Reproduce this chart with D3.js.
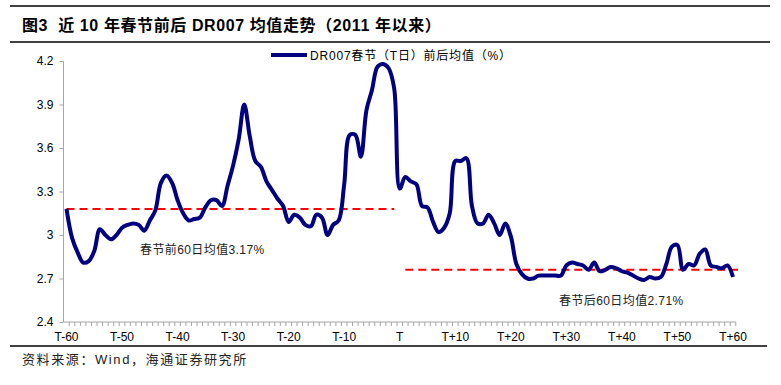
<!DOCTYPE html>
<html lang="zh">
<head>
  <meta charset="UTF-8" />
  <title>DR007 春节前后均值</title>
  <style>
    body { margin: 0; background: #fff; }
    svg { display: block; font-family: 'Liberation Sans', Arial, 'Noto Sans CJK SC', sans-serif; }
    .axis path, .axis line { stroke: #a6a6a6; }
    .axis text { fill: #000; font-size: 12px; }
  </style>
</head>
<body>
  <svg id="chart" width="781" height="385"></svg>

  <script src="https://d3js.org/d3.v7.min.js"></script>
  <script>
    // T-60 ... T ... T+60
    const days = d3.range(-60, 61).map(d => d === 0 ? "T" : d < 0 ? "T" + d : "T+" + d);

    const dr007 = [
      3.18, 2.98, 2.88, 2.81, 2.82, 2.89, 3.04, 3.00, 2.97, 3.00,
      3.05, 3.07, 3.08, 3.07, 3.03, 3.10, 3.17, 3.36, 3.41, 3.36,
      3.24, 3.15, 3.10, 3.11, 3.12, 3.19, 3.24, 3.24, 3.20, 3.34,
      3.48, 3.66, 3.90, 3.68, 3.51, 3.47, 3.37, 3.31, 3.25, 3.20,
      3.09, 3.14, 3.12, 3.07, 3.06, 3.14, 3.12, 3.00, 3.07, 3.10,
      3.35, 3.69, 3.69, 3.54, 3.86, 4.00, 4.16, 4.18, 4.15, 4.01,
      3.32, 3.40, 3.37, 3.35, 3.20, 3.19, 3.09, 3.02, 3.05, 3.15,
      3.51, 3.51, 3.53, 3.20, 3.08, 3.08, 3.14, 3.08, 3.00, 3.08,
      2.99, 2.80, 2.73, 2.70, 2.70, 2.72, 2.72, 2.72, 2.72, 2.72,
      2.79, 2.81, 2.80, 2.79, 2.76, 2.81, 2.75, 2.76, 2.78, 2.77,
      2.75, 2.74, 2.72, 2.70, 2.69, 2.71, 2.70, 2.71, 2.80, 2.92,
      2.93, 2.76, 2.80, 2.79, 2.87, 2.90, 2.79, 2.78, 2.77, 2.79,
      2.71
    ];

    const yTicks = [2.4, 2.7, 3, 3.3, 3.6, 3.9, 4.2];
    const xLabelDays = ["T-60", "T-50", "T-40", "T-30", "T-20", "T-10", "T",
                        "T+10", "T+20", "T+30", "T+40", "T+50", "T+60"];

    // 均值线：前60日 / 后60日
    const preAvgLabel = "春节前60日均值3.17%";
    const postAvgLabel = "春节后60日均值2.71%";
    const preLevel = 3.18;
    const postLevel = 2.76;

    const svg = d3.select("#chart");

    const x = d3.scalePoint().domain(days).range([66.5, 733]);
    const y = d3.scaleLinear().domain([2.4, 4.2]).range([322, 61]);

    // 标题与分隔线
    svg.append("line").attr("x1", 10).attr("x2", 770).attr("y1", 6).attr("y2", 6)
      .attr("stroke", "#000").attr("stroke-width", 1.5);
    svg.append("line").attr("x1", 10).attr("x2", 770).attr("y1", 42).attr("y2", 42)
      .attr("stroke", "#000").attr("stroke-width", 1.5);
    svg.append("line").attr("x1", 10).attr("x2", 767).attr("y1", 346).attr("y2", 346)
      .attr("stroke", "#000").attr("stroke-width", 1.5);

    svg.append("text")
      .attr("x", 22).attr("y", 31)
      .attr("font-size", 16).attr("font-weight", "bold")
      .attr("letter-spacing", 0.6)
      .style("white-space", "pre")
      .text("图3  近 10 年春节前后 DR007 均值走势（2011 年以来）");

    svg.append("text")
      .attr("x", 22).attr("y", 364)
      .attr("font-size", 13).attr("fill", "#222")
      .attr("letter-spacing", 1.6)
      .text("资料来源：Wind，海通证券研究所");

    // 坐标轴
    const yAxis = svg.append("g")
      .attr("class", "axis")
      .attr("transform", "translate(63.5,0)")
      .call(d3.axisLeft(y).tickValues(yTicks).tickSize(4).tickPadding(6).tickFormat(d3.format("")));
    yAxis.select(".domain").attr("d", `M0,${y(4.2)}V${y(2.4)}`);

    const step = x.step();
    const xAxis = svg.append("g")
      .attr("class", "axis")
      .attr("transform", `translate(0,${y(2.4)})`);
    xAxis.append("line")
      .attr("x1", 63.5).attr("x2", x("T+60") + step / 2)
      .attr("stroke", "#a6a6a6");
    xAxis.selectAll(".minor").data(days).enter().append("line")
      .attr("x1", d => x(d) + step / 2).attr("x2", d => x(d) + step / 2)
      .attr("y1", 0).attr("y2", 4)
      .attr("stroke", "#a6a6a6");
    xAxis.selectAll(".lab").data(xLabelDays).enter().append("text")
      .attr("x", d => x(d)).attr("y", 19)
      .attr("text-anchor", "middle")
      .attr("font-size", 12)
      .text(d => d);

    // 均值虚线
    svg.append("line")
      .attr("x1", x("T-60")).attr("x2", x("T-1"))
      .attr("y1", y(preLevel)).attr("y2", y(preLevel))
      .attr("stroke", "#ff0000").attr("stroke-width", 2).attr("stroke-dasharray", "8,5");
    svg.append("line")
      .attr("x1", x("T+1")).attr("x2", x("T+60") + 5)
      .attr("y1", y(postLevel)).attr("y2", y(postLevel))
      .attr("stroke", "#ff0000").attr("stroke-width", 2).attr("stroke-dasharray", "8,5");

    // 主线
    const line = d3.line()
      .x((d, i) => x(days[i]))
      .y(d => y(d))
      .curve(d3.curveCatmullRom.alpha(0.5));

    svg.append("path")
      .datum(dr007)
      .attr("d", line)
      .attr("fill", "none")
      .attr("stroke", "#000080")
      .attr("stroke-width", 4)
      .attr("stroke-linejoin", "round");

    // 注释
    svg.append("text")
      .attr("x", 140).attr("y", 254)
      .attr("font-size", 12).attr("fill", "#222")
      .attr("letter-spacing", 0.4)
      .text(preAvgLabel);
    svg.append("text")
      .attr("x", 559).attr("y", 305)
      .attr("font-size", 12).attr("fill", "#222")
      .attr("letter-spacing", 0.4)
      .text(postAvgLabel);

    // 图例
    svg.append("line")
      .attr("x1", 271).attr("x2", 307).attr("y1", 55).attr("y2", 55)
      .attr("stroke", "#000080").attr("stroke-width", 4);
    svg.append("text")
      .attr("x", 310).attr("y", 59.5)
      .attr("font-size", 12)
      .attr("letter-spacing", 0.8)
      .text("DR007春节（T日）前后均值（%）");
  </script>
</body>
</html>
